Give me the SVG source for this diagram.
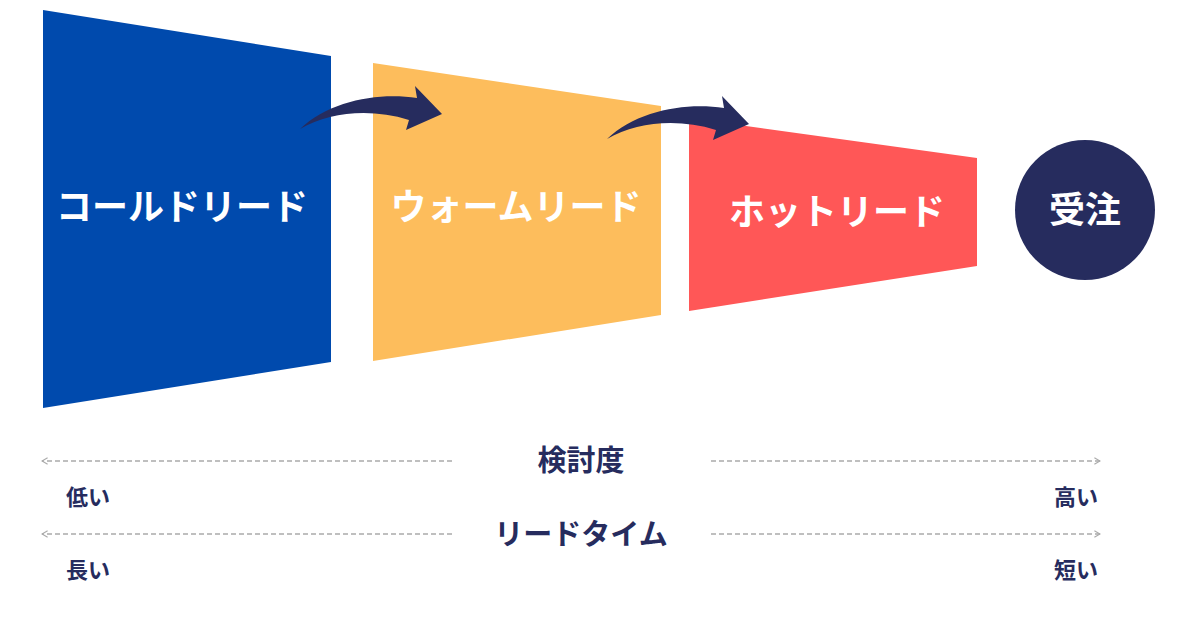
<svg xmlns="http://www.w3.org/2000/svg" width="1200" height="630" viewBox="0 0 1200 630">
<defs>
<style>
.t{font-family:"Noto Sans CJK JP",sans-serif;font-weight:700}
.w{fill:#fff;font-size:36px}
.d{fill:#262c5e;font-size:22px}
.h{fill:#262c5e;font-size:29px}
.dash{stroke:#aaa;stroke-width:1.5;stroke-dasharray:5 3;fill:none}
</style>
<marker id="ah" viewBox="0 0 10 10" refX="9" refY="5" markerWidth="8" markerHeight="8" orient="auto-start-reverse" markerUnits="userSpaceOnUse"><path d="M2,1 L9,5 L2,9" fill="none" stroke="#aaa" stroke-width="1.5"/></marker>
<path id="arw" d="M300,129 C330,100 380,92 417,98 L415,86 L442,114 L406,130 L409,120 C370,108 330,112 300,129 Z" fill="#262c5e"/>
</defs>
<g id="cold"><polygon points="43,10 331,56 331,362 43,408" fill="#004aad"/><text class="t w" x="182" y="220" text-anchor="middle">コールドリード</text></g>
<g id="warm"><polygon points="373,63 661,106 661,315 373,361" fill="#fdbd5c"/><text class="t w" x="516" y="220" text-anchor="middle">ウォームリード</text></g>
<g id="hot"><polygon points="689,118 977,158 977,266 689,311" fill="#ff5757"/><text class="t w" x="837" y="225" text-anchor="middle">ホットリード</text></g>
<g id="order"><circle cx="1085" cy="210" r="70" fill="#262c5e"/><text class="t w" x="1085" y="223" text-anchor="middle">受注</text></g>
<g id="connectors">
<use href="#arw"/>
<use href="#arw" transform="translate(307,10)"/>
<line class="dash" x1="452" y1="461" x2="42" y2="461" marker-end="url(#ah)"/>
<line class="dash" x1="711" y1="461" x2="1100" y2="461" marker-end="url(#ah)"/>
<line class="dash" x1="452" y1="534" x2="42" y2="534" marker-end="url(#ah)"/>
<line class="dash" x1="711" y1="534" x2="1100" y2="534" marker-end="url(#ah)"/>
</g>
<g id="labels">
<text class="t h" x="581" y="471" text-anchor="middle">検討度</text>
<text class="t h" x="581" y="545" text-anchor="middle">リードタイム</text>
<text class="t d" x="66" y="505">低い</text>
<text class="t d" x="1098" y="505" text-anchor="end">高い</text>
<text class="t d" x="66" y="578">長い</text>
<text class="t d" x="1098" y="578" text-anchor="end">短い</text>
</g>
</svg>
